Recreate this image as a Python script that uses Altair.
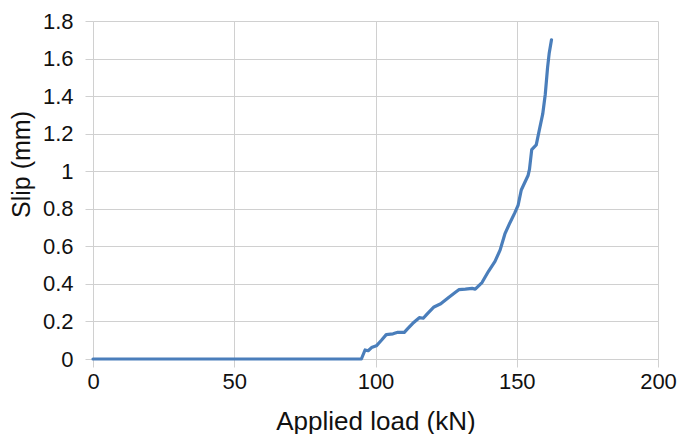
import altair as alt
import pandas as pd

# Data
load_kn = [0, 95.0, 96.3, 97.4, 98.6, 100.3, 102.1, 103.8, 106.2, 107.9, 110.2,
           111.4, 113.2, 115.5, 116.9, 118.4, 120.7, 123.1, 126.0, 128.3, 129.5,
           131.8, 134.2, 135.3, 137.7, 140.0, 142.3, 144.1, 145.8, 147.6, 149.3,
           150.5, 151.6, 154.0, 154.5, 155.3, 156.9, 158.0, 159.2, 160.1, 160.9,
           161.5, 162.3]
slip_mm = [0, 0.0, 0.048, 0.044, 0.061, 0.07, 0.10, 0.13, 0.134, 0.142, 0.142,
           0.162, 0.19, 0.22, 0.217, 0.242, 0.277, 0.294, 0.329, 0.355, 0.369,
           0.372, 0.376, 0.372, 0.407, 0.467, 0.52, 0.58, 0.666, 0.726, 0.778,
           0.82, 0.90, 0.977, 1.01, 1.115, 1.14, 1.22, 1.305, 1.41, 1.55,
           1.63, 1.70]

x_ticks = [0, 50, 100, 150, 200]
y_ticks = [0, 0.2, 0.4, 0.6, 0.8, 1.0, 1.2, 1.4, 1.6, 1.8]

df = pd.DataFrame({"load": load_kn, "slip": slip_mm})

FONT = "Liberation Sans"
GRID = "#d0d0d0"

chart = alt.Chart(df).mark_line(
    color="#4a7ebb", strokeWidth=3.2, strokeJoin="round", strokeCap="round"
).encode(
    x=alt.X(
        "load:Q",
        scale=alt.Scale(domain=[0, 200], nice=False, zero=True),
        axis=alt.Axis(
            values=x_ticks,
            title="Applied load (kN)",
            titleFontSize=26,
            titleY=70,
            titleBaseline="alphabetic",
            labelFontSize=22,
            tickSize=8,
            labelPadding=4,
            format="d",
        ),
    ),
    y=alt.Y(
        "slip:Q",
        scale=alt.Scale(domain=[0, 1.8], nice=False),
        axis=alt.Axis(
            values=y_ticks,
            title="Slip (mm)",
            titleFontSize=25,
            titleAngle=270,
            titleX=-64,
            titleY=143,
            titleAlign="center",
            titleBaseline="alphabetic",
            labelFontSize=22,
            tickSize=8,
            labelPadding=12,
            format=".1~f",
        ),
    ),
).properties(
    width=565,
    height=338,
    autosize=alt.AutoSizeParams(type="none"),
    padding={"left": 85, "top": 13, "right": 19, "bottom": 75},
).configure_view(
    stroke=None
).configure_axis(
    labelFont=FONT,
    titleFont=FONT,
    labelColor="#111111",
    titleColor="#111111",
    titleFontWeight="normal",
    grid=True,
    gridColor=GRID,
    gridWidth=1,
    domainColor=GRID,
    domainWidth=1,
    tickColor=GRID,
    tickWidth=1,
    labelFlush=False,
    labelOverlap=False,
)

chart.save("out.html", embed_options={"renderer": "svg", "actions": False})
